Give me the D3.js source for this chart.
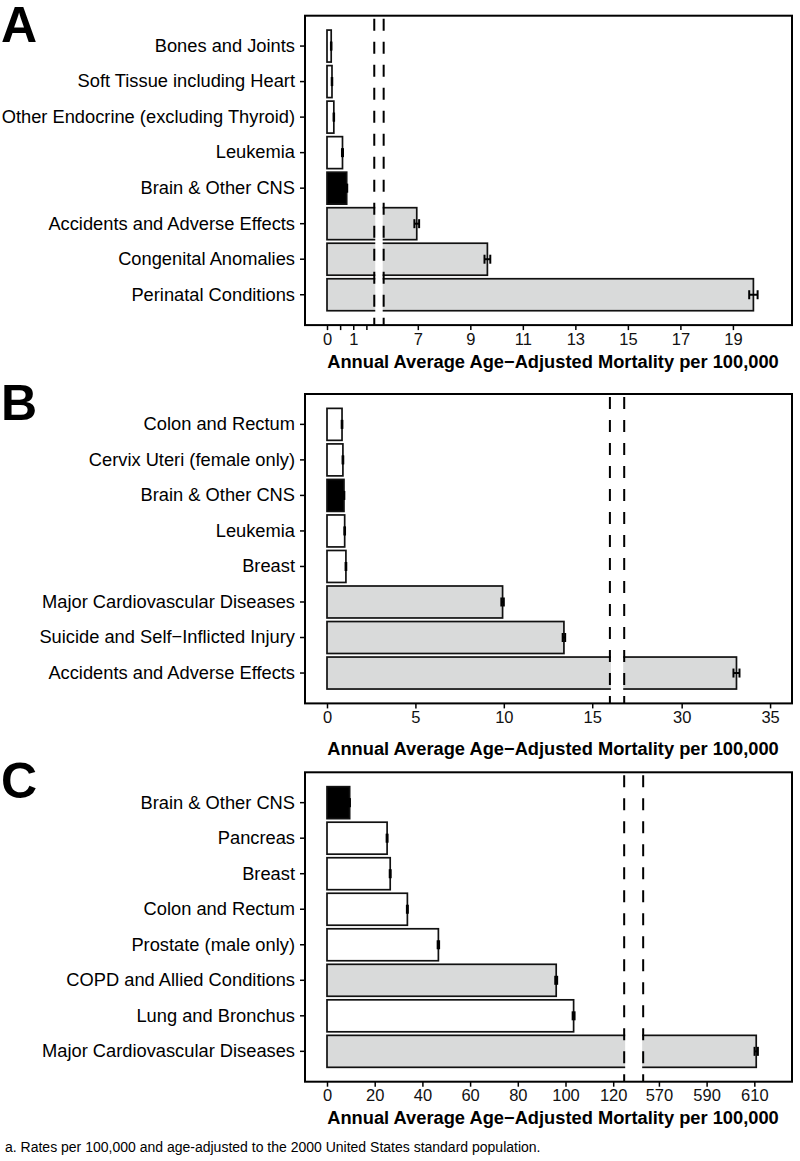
<!DOCTYPE html>
<html>
<head>
<meta charset="utf-8">
<script src="https://cdn.jsdelivr.net/npm/d3@7"></script>
<style>
  body { margin: 0; background: #fff; }
  svg { display: block; font-family: "Liberation Sans", Arial, sans-serif; }
</style>
</head>
<body>
<svg width="800" height="1161"></svg>
<script>
// ---- data ----
var catsA = ["Bones and Joints", "Soft Tissue including Heart", "Other Endocrine (excluding Thyroid)",
    "Leukemia", "Brain & Other CNS", "Accidents and Adverse Effects", "Congenital Anomalies", "Perinatal Conditions"];
var valsA = [0.16, 0.19, 0.26, 0.59, 0.75, 6.96, 9.65, 19.78];
var errA = [0.01, 0.01, 0.01, 0.02, 0.02, 0.09, 0.11, 0.16];
var groupA = ["cancer", "cancer", "cancer", "cancer", "brain", "other", "other", "other"];
var breakA = [1.8, 5.7], xMaxA = 21.25;
var ticksA = [0, 0.5, 1, 1.5, 7, 9, 11, 13, 15, 17, 19];
var tickLabA = ["0", "", "1", "", "7", "9", "11", "13", "15", "17", "19"];

var catsB = ["Colon and Rectum", "Cervix Uteri (female only)", "Brain & Other CNS", "Leukemia", "Breast",
    "Major Cardiovascular Diseases", "Suicide and Self\u2212Inflicted Injury", "Accidents and Adverse Effects"];
var valsB = [0.85, 0.9, 0.96, 1.0, 1.07, 9.93, 13.4, 33.1];
var errB = [0.02, 0.02, 0.02, 0.02, 0.02, 0.07, 0.07, 0.17];
var groupB = ["cancer", "cancer", "brain", "cancer", "cancer", "other", "other", "other"];
var breakB = [16, 26.75], xMaxB = 36.24;
var ticksB = [0, 5, 10, 15, 30, 35];
var tickLabB = ["0", "5", "10", "15", "30", "35"];

var catsC = ["Brain & Other CNS", "Pancreas", "Breast", "Colon and Rectum", "Prostate (male only)",
    "COPD and Allied Conditions", "Lung and Bronchus", "Major Cardiovascular Diseases"];
var valsC = [9.5, 25.2, 26.5, 33.7, 46.7, 96.1, 103.4, 610.8];
var errC = [0.1, 0.2, 0.2, 0.2, 0.3, 0.4, 0.4, 0.7];
var groupC = ["brain", "cancer", "cancer", "cancer", "cancer", "other", "cancer", "other"];
var breakC = [124.6, 563.4], xMaxC = 625.8;
var ticksC = [0, 20, 40, 60, 80, 100, 120, 570, 590, 610];
var tickLabC = ["0", "20", "40", "60", "80", "100", "120", "570", "590", "610"];

var panelLabels = ["A", "B", "C"];
var axisTitle = "Annual Average Age\u2212Adjusted Mortality per 100,000";
var footnote = "a. Rates per 100,000 and age-adjusted to the 2000 United States standard population.";

// ---- layout ----
var plotLeft = 305, plotRight = 792, plotH = 309.4, zeroPad = 22;
var fill = d3.scaleOrdinal().domain(["cancer", "brain", "other"]).range(["#ffffff", "#000000", "#d9dada"]);

var svg = d3.select("svg");

function drawPanel(top, label, cats, vals, err, groups, brk, xMax, gap, ticks, tickLabs, titleGap) {
    var bottom = top + plotH;
    var g = svg.append("g");

    // broken x scale: [0, brk0] then gap, then [brk1, xMax]
    var x0 = plotLeft + zeroPad;
    var unit = (plotRight - x0 - gap) / (brk[0] + xMax - brk[1]);
    var xa = x0 + brk[0] * unit;
    var x = d3.scaleLinear()
        .domain([0, brk[0], brk[1], xMax])
        .range([x0, xa, xa + gap, plotRight]);

    var y = d3.scaleBand()
        .domain(cats)
        .range([top + 12.6, bottom - 12.6])
        .paddingInner(0.1)
        .paddingOuter(0.05);

    var rows = cats.map(function (c, i) {
        return {cat: c, v: vals[i], lo: vals[i] - err[i], hi: vals[i] + err[i], grp: groups[i]};
    });

    g.selectAll("rect.bar")
        .data(rows)
        .enter()
        .append("rect")
        .attr("class", "bar")
        .attr("x", x(0))
        .attr("y", function (d) { return y(d.cat); })
        .attr("width", function (d) { return x(d.v) - x(0); })
        .attr("height", y.bandwidth())
        .attr("fill", function (d) { return fill(d.grp); })
        .attr("stroke", "#111")
        .attr("stroke-width", 1.7);

    // error bars
    var eb = g.selectAll("g.err")
        .data(rows)
        .enter()
        .append("g")
        .attr("stroke", "#000")
        .attr("stroke-width", 2);
    eb.append("line")
        .attr("x1", function (d) { return x(d.lo); })
        .attr("x2", function (d) { return x(d.hi); })
        .attr("y1", function (d) { return y(d.cat) + y.bandwidth() / 2; })
        .attr("y2", function (d) { return y(d.cat) + y.bandwidth() / 2; });
    ["lo", "hi"].forEach(function (k) {
        eb.append("line")
            .attr("x1", function (d) { return x(d[k]); })
            .attr("x2", function (d) { return x(d[k]); })
            .attr("y1", function (d) { return y(d.cat) + y.bandwidth() / 2 - 4.5; })
            .attr("y2", function (d) { return y(d.cat) + y.bandwidth() / 2 + 4.5; });
    });

    // axis break
    g.append("rect")
        .attr("x", x(brk[0]) + 1)
        .attr("y", top + 1)
        .attr("width", x(brk[1]) - x(brk[0]) - 2)
        .attr("height", plotH - 2)
        .attr("fill", "#fff");
    g.selectAll("line.brk")
        .data(brk)
        .enter()
        .append("line")
        .attr("x1", function (d) { return x(d); })
        .attr("x2", function (d) { return x(d); })
        .attr("y1", top)
        .attr("y2", bottom)
        .attr("stroke", "#000")
        .attr("stroke-width", 2)
        .attr("stroke-dasharray", "12,11")
        .attr("stroke-dashoffset", -3);

    // frame
    g.append("rect")
        .attr("x", plotLeft)
        .attr("y", top)
        .attr("width", plotRight - plotLeft)
        .attr("height", plotH)
        .attr("fill", "none")
        .attr("stroke", "#000")
        .attr("stroke-width", 2);

    // axes
    var yAxis = g.append("g")
        .attr("transform", "translate(" + plotLeft + ",0)")
        .call(d3.axisLeft(y).tickSize(5).tickPadding(5));
    yAxis.select(".domain").remove();
    yAxis.selectAll("line").attr("stroke", "#000").attr("stroke-width", 1.5);
    yAxis.selectAll("text").attr("font-size", 18.3).attr("fill", "#000");

    var xAxis = g.append("g")
        .attr("transform", "translate(0," + bottom + ")")
        .call(d3.axisBottom(x).tickValues(ticks).tickSize(5).tickPadding(3)
            .tickFormat(function (d, i) { return tickLabs[i]; }));
    xAxis.select(".domain").remove();
    xAxis.selectAll("line").attr("stroke", "#000").attr("stroke-width", 1.5);
    xAxis.selectAll("text").attr("font-size", 16.5).attr("fill", "#111");

    g.append("text")
        .attr("x", 553)
        .attr("y", bottom + titleGap)
        .attr("text-anchor", "middle")
        .attr("font-size", 18.3)
        .attr("font-weight", "bold")
        .text(axisTitle);

    g.append("text")
        .attr("x", 1)
        .attr("y", top + 26)
        .attr("font-size", 50)
        .attr("font-weight", "bold")
        .text(label);
}

drawPanel(15.7, panelLabels[0], catsA, valsA, errA, groupA, breakA, xMaxA, 9.4, ticksA, tickLabA, 43);
drawPanel(394, panelLabels[1], catsB, valsB, errB, groupB, breakB, xMaxB, 14.3, ticksB, tickLabB, 52);
drawPanel(772.3, panelLabels[2], catsC, valsC, errC, groupC, breakC, xMaxC, 19, ticksC, tickLabC, 42);

svg.append("text")
    .attr("x", 5)
    .attr("y", 1152)
    .attr("font-size", 14)
    .text(footnote);
</script>
</body>
</html>
